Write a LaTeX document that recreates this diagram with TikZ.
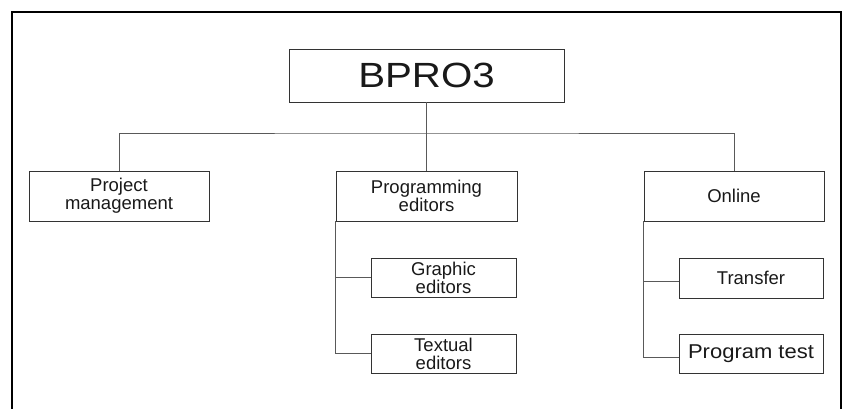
\documentclass[tikz,border=0pt]{standalone}
\usepackage{fontspec}
\setmainfont{Liberation Sans}
\usetikzlibrary{positioning}
\tikzstyle{blk} = [draw=black!80, line width=0.9pt, align=center, inner sep=0pt,
    font=\fontsize{18.5}{18}\selectfont, text=black!90]
\tikzstyle{lnk} = [draw=black!65, line width=0.9pt]

\begin{document}
\begin{tikzpicture}[x=1pt,y=-1pt]
\useasboundingbox (0,0) rectangle (848,409);
    % Draw frame (open at the bottom)
    \draw[line width=1.8pt] (11.7,409) -- (11.7,12.3) -- (841,12.3) -- (841,409);
    % Draw top box
    \node[blk, minimum width=275pt, minimum height=53pt,
        font=\fontsize{35}{40}\selectfont] (bpro) at (426.5,75.5)
        {\scalebox{1.15}[1]{BPRO3}};
    % Draw second level
    \node[blk, minimum width=180pt, minimum height=50pt] (pm) at (119,196)
        {Project\\management};
    \node[blk, minimum width=181pt, minimum height=50pt] (pe) at (426.5,196)
        {Programming\\editors};
    \node[blk, minimum width=180pt, minimum height=50pt] (on) at (734,196)
        {Online};
    % Draw third level
    \node[blk, minimum width=145pt, minimum height=39pt] (ge) at (443.5,277.5)
        {Graphic\\editors};
    \node[blk, minimum width=145pt, minimum height=39pt] (te) at (443.5,353.5)
        {Textual\\editors};
    \node[blk, minimum width=144pt, minimum height=40pt] (tr) at (751,278)
        {Transfer};
    \node[blk, minimum width=144pt, minimum height=39pt,
        font=\fontsize{20}{20}\selectfont] (pt) at (751,353.5)
        {\scalebox{1.1}[1]{Program test}};

    \coordinate (bus) at (426.5,133);
    % Draw connectors
    \draw[lnk] (bpro.south) -- (pe.north);
    \draw[lnk] (pm.north) |- (bus) -| (on.north);
    \draw[lnk] (pe.south west) |- (te.west);
    \draw[lnk] (pe.south west |- ge.west) -- (ge.west);
    \draw[lnk] (on.south west) |- ([yshift=-4pt]pt.west);
    \draw[lnk] (on.south west |- tr.west) ++(0,3) -- ([yshift=-3pt]tr.west);
\end{tikzpicture}
\end{document}
